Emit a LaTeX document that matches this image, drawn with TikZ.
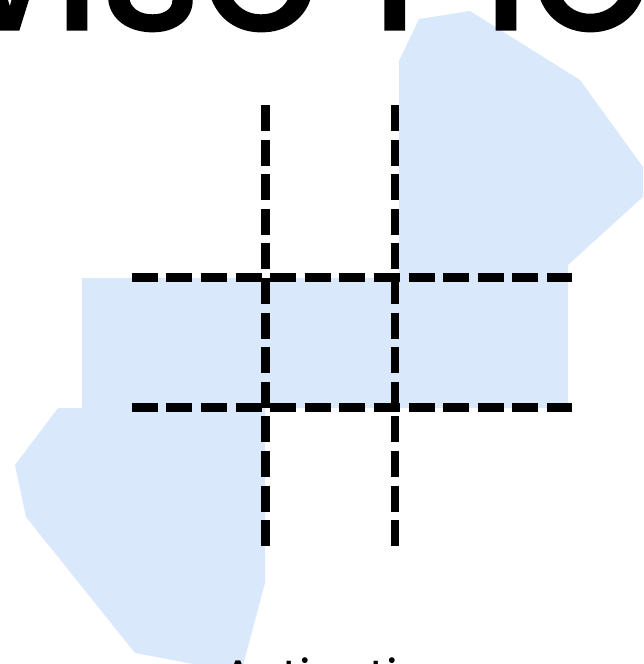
\documentclass[tikz,border=0pt]{standalone}
\usepackage{fontspec}
\setmainfont{Poppins}
\newfontfamily\headfont{Poppins}[FakeBold=1.7]
\usetikzlibrary{positioning}
\definecolor{paleblue}{HTML}{DAE8FC}
\tikzstyle{blob}=[fill=paleblue,draw=none]
\tikzstyle{gridline}=[draw=black,line width=8.5pt,dash pattern=on 26pt off 8.6pt]
\tikzstyle{titletext}=[inner sep=0pt,anchor=base west,font=\headfont\fontsize{192}{230}\selectfont]
\tikzstyle{axistext}=[inner sep=0pt,anchor=base west,font=\fontsize{47}{56}\selectfont]

\begin{document}
\begin{tikzpicture}[x=1pt,y=-1pt]
  \useasboundingbox (0,0) rectangle (643,664);
  \clip (0,0) rectangle (643,664);
  % region kept by the pairwise cut
  \fill[blob] (399,61) -- (419,19) -- (470,11) -- (580,80) -- (656,185)
    -- (568,265) -- (568,408) -- (265,408) -- (265,583) -- (241,673)
    -- (135,653) -- (26,517) -- (15,465) -- (58,408) -- (82,408)
    -- (82,278) -- (399,278) -- cycle;
  \node[titletext] (title) at (-464,29) {Pairwise Plot};
  \node[axistext] (xname) at (222,693) {Activation};
  % the two vertical and the two horizontal cuts
  \coordinate (v1top) at (265.3,105);
  \coordinate (v1bot) at (265.3,546);
  \coordinate (v2top) at (395,105);
  \coordinate (v2bot) at (395,546);
  \coordinate (h1left) at (131.7,277.7);
  \coordinate (h1right) at (572,277.7);
  \coordinate (h2left) at (131.7,407.7);
  \coordinate (h2right) at (572,407.7);
  \draw[gridline] (v1top) -- (v1bot);
  \draw[gridline] (v2top) -- (v2bot);
  \draw[gridline] (h1left) -- (h1right);
  \draw[gridline] (h2left) -- (h2right);
\end{tikzpicture}
\end{document}
